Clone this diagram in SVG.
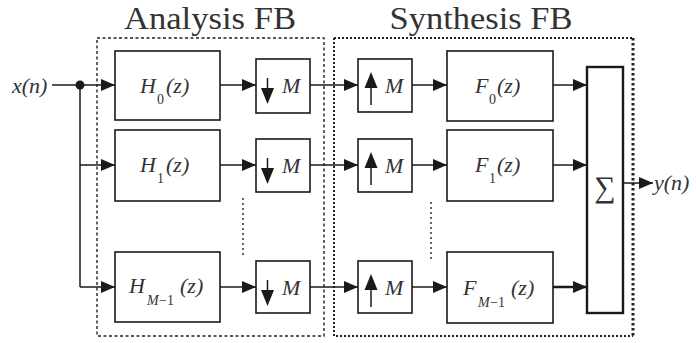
<svg xmlns="http://www.w3.org/2000/svg" width="696" height="343" viewBox="0 0 696 343" font-family="Liberation Serif, Times New Roman, DejaVu Serif, serif">
<defs>
<marker id="ah" viewBox="0 0 14 12" refX="14" refY="6" markerWidth="14" markerHeight="12" markerUnits="userSpaceOnUse" orient="auto">
<path d="M0,0 L14,6 L0,12 Z" fill="#1a1a1a"/>
</marker>
</defs>
<style>
.box{fill:#fff;stroke:#1a1a1a;stroke-width:1.6}
.thick{fill:#fff;stroke:#1a1a1a;stroke-width:2.4}
.ln{fill:none;stroke:#1a1a1a;stroke-width:1.5}
.arr{fill:none;stroke:#1a1a1a;stroke-width:1.5;marker-end:url(#ah)}
.tri{fill:#1a1a1a}
.lbl{font-style:italic;font-size:22px;fill:#333}
.sub{font-size:14px;fill:#333}
.subi{font-style:italic;font-size:14px;fill:#333}
.title{font-size:32px;fill:#333}
.dots{fill:none;stroke:#333;stroke-width:1.5;stroke-dasharray:2,3}
</style>

<g id="frames">
<rect x="97" y="38" width="227" height="298" fill="none" stroke="#222" stroke-width="1.4" stroke-dasharray="3,2.5"/>
<path d="M334,38 L633,38 M334,38 L334,336 L633,336" fill="none" stroke="#222" stroke-width="2" stroke-dasharray="2,2"/>
<path d="M633,38 L633,336" fill="none" stroke="#222" stroke-width="3" stroke-dasharray="2.5,2.5"/>
<text class="title" x="210" y="29" text-anchor="middle" textLength="172" lengthAdjust="spacingAndGlyphs">Analysis FB</text>
<text class="title" x="481" y="29" text-anchor="middle" textLength="183" lengthAdjust="spacingAndGlyphs">Synthesis FB</text>
</g>

<g id="connectors">
<path class="ln" d="M52,85 L80,85"/>
<circle cx="80" cy="85" r="4.5" fill="#1a1a1a"/>
<path class="arr" d="M80,85 L115,85"/>
<path class="ln" d="M80,85 L80,287"/>
<path class="arr" d="M80,165 L115,165"/>
<path class="arr" d="M80,287 L115,287"/>
<path class="arr" d="M220,85 L256,85"/>
<path class="arr" d="M220,165 L256,165"/>
<path class="arr" d="M220,287 L256,287"/>
<path class="arr" d="M310,85 L358,85"/>
<path class="arr" d="M310,165 L358,165"/>
<path class="arr" d="M310,287 L358,287"/>
<path class="arr" d="M412,85 L447,85"/>
<path class="arr" d="M412,165 L447,165"/>
<path class="arr" d="M412,287 L447,287"/>
<path class="arr" d="M553,85 L587,85"/>
<path class="arr" d="M553,165 L587,165"/>
<path class="arr" d="M553,287 L587,287" style="stroke-width:2.4"/>
<path class="arr" d="M623,183 L653,183"/>
<path class="dots" d="M243,198 L243,258"/>
<path class="dots" d="M431,202 L431,260"/>
</g>

<g id="input">
<text class="lbl" x="12" y="93">x(n)</text>
</g>

<g id="H0">
<rect class="box" x="115" y="51" width="105" height="69"/>
<text class="lbl" x="140" y="93">H</text><text class="sub" x="157" y="104">0</text><text class="lbl" x="166" y="93">(z)</text>
</g>
<g id="H1">
<rect class="box" x="115" y="130" width="105" height="71"/>
<text class="lbl" x="140" y="172">H</text><text class="sub" x="157" y="183">1</text><text class="lbl" x="166" y="172">(z)</text>
</g>
<g id="HM1">
<rect class="box" x="115" y="252" width="105" height="70"/>
<text class="lbl" x="129" y="293">H</text><text class="subi" x="147" y="305">M</text><text class="sub" x="159" y="305">−1</text><text class="lbl" x="180" y="293">(z)</text>
</g>

<g id="D0">
<rect class="box" x="256" y="59" width="54" height="54"/>
<path class="ln" d="M267.5,78 L267.5,92"/><path class="tri" d="M261,88 L274,88 L267.5,104 Z"/>
<text class="lbl" x="282" y="93">M</text>
</g>
<g id="D1">
<rect class="box" x="256" y="139" width="54" height="53"/>
<path class="ln" d="M267.5,158 L267.5,172"/><path class="tri" d="M261,168 L274,168 L267.5,184 Z"/>
<text class="lbl" x="282" y="173">M</text>
</g>
<g id="DM1">
<rect class="box" x="256" y="261" width="54" height="52"/>
<path class="ln" d="M267.5,280 L267.5,294"/><path class="tri" d="M261,290 L274,290 L267.5,306 Z"/>
<text class="lbl" x="282" y="295">M</text>
</g>

<g id="U0">
<rect class="box" x="358" y="59" width="54" height="53"/>
<path class="ln" d="M371,84 L371,105"/><path class="tri" d="M364.5,88 L377.5,88 L371,72 Z"/>
<text class="lbl" x="385" y="93">M</text>
</g>
<g id="U1">
<rect class="box" x="358" y="139" width="54" height="53"/>
<path class="ln" d="M371,164 L371,185"/><path class="tri" d="M364.5,168 L377.5,168 L371,152 Z"/>
<text class="lbl" x="385" y="173">M</text>
</g>
<g id="UM1">
<rect class="box" x="358" y="261" width="54" height="52"/>
<path class="ln" d="M371,286 L371,307"/><path class="tri" d="M364.5,290 L377.5,290 L371,274 Z"/>
<text class="lbl" x="385" y="295">M</text>
</g>

<g id="F0">
<rect class="box" x="447" y="51" width="106" height="70"/>
<text class="lbl" x="475" y="93">F</text><text class="sub" x="489" y="104">0</text><text class="lbl" x="497" y="93">(z)</text>
</g>
<g id="F1">
<rect class="box" x="447" y="130" width="106" height="71"/>
<text class="lbl" x="475" y="172">F</text><text class="sub" x="489" y="183">1</text><text class="lbl" x="497" y="172">(z)</text>
</g>
<g id="FM1">
<rect class="box" x="447" y="252" width="106" height="71"/>
<text class="lbl" x="463" y="295">F</text><text class="subi" x="478" y="307">M</text><text class="sub" x="490" y="307">−1</text><text class="lbl" x="511" y="295">(z)</text>
</g>

<g id="sum">
<rect class="thick" x="587" y="67" width="36" height="246"/>
<text x="605" y="197" text-anchor="middle" font-size="30" fill="#333">∑</text>
</g>

<g id="output">
<text class="lbl" x="654" y="190">y(n)</text>
</g>
</svg>
